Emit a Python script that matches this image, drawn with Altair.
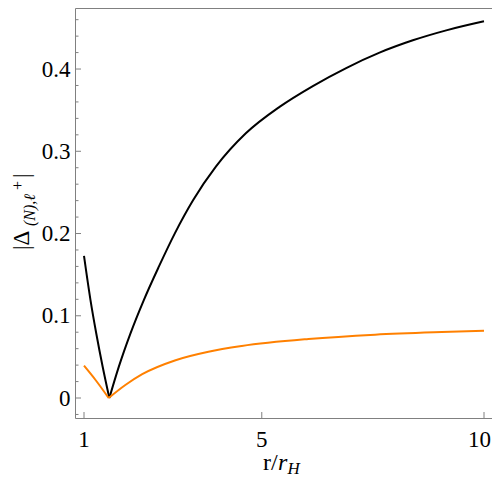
import altair as alt
import pandas as pd

# ---- data ----
r_black_left = [1.0, 1.146, 1.274, 1.42, 1.57]
black_left = [0.1727, 0.119, 0.079, 0.038, 0.0]
r_black_right = [1.57, 1.784, 2.046, 2.346, 2.684, 3.044, 3.457, 3.967, 4.641, 5.40,
                 6.149, 6.899, 7.649, 8.399, 9.15, 10.0]
black_right = [0.0, 0.0381, 0.0786, 0.1191, 0.1597, 0.2002, 0.2407, 0.2813, 0.3218, 0.354,
               0.3793, 0.4012, 0.4199, 0.4349, 0.4470, 0.4580]

r_orange_left = [1.0, 1.26, 1.555]
orange_left = [0.0393, 0.0219, 0.0]
r_orange_right = [1.555, 1.93, 2.31, 3.06, 3.80, 4.55, 6.05, 7.55, 9.05, 10.0]
orange_right = [0.0, 0.0158, 0.029, 0.046, 0.0563, 0.0632, 0.0717, 0.077, 0.0802, 0.0818]

x_ticks = [1, 5, 10]
x_labels = ["1", "5", "10"]
y_ticks = [0, 0.1, 0.2, 0.3, 0.4]
y_minor = [-0.02, 0.02, 0.04, 0.06, 0.08, 0.12, 0.14, 0.16, 0.18, 0.22, 0.24, 0.26, 0.28,
           0.32, 0.34, 0.36, 0.38, 0.42, 0.44, 0.46]

x_domain = [0.7975, 10.18]
y_domain = [-0.0243, 0.4742]

rows = []
for name, br, rs, vs in [("black", "bl", r_black_left, black_left),
                         ("black", "br", r_black_right, black_right),
                         ("orange", "ol", r_orange_left, orange_left),
                         ("orange", "or", r_orange_right, orange_right)]:
    for i, (r, v) in enumerate(zip(rs, vs)):
        rows.append({"r": r, "v": v, "series": name, "branch": br, "order": i})
df = pd.DataFrame(rows)

W, H = 417, 410
FONT = "Liberation Serif"
GRAY = "#808080"

xs = alt.Scale(domain=x_domain, nice=False, zero=False)
ys = alt.Scale(domain=y_domain, nice=False, zero=False)

lines = alt.Chart(df).mark_line(strokeWidth=2, interpolate="monotone").encode(
    x=alt.X("r:Q", scale=xs, axis=None),
    y=alt.Y("v:Q", scale=ys,
            axis=alt.Axis(values=y_ticks, title=None, ticks=False, domain=False, grid=False,
                          labelFont=FONT, labelFontSize=23, labelColor="black",
                          labelPadding=5, labelFlush=False,
                          labelExpr="datum.value == 0 ? '0' : format(datum.value, '.1f')")),
    color=alt.Color("series:N", scale=alt.Scale(domain=["black", "orange"],
                                                range=["#000000", "#ff8000"]), legend=None),
    detail="branch:N",
    order="order:Q",
)

xt = alt.Chart(pd.DataFrame({"t": x_ticks})).mark_rule(color=GRAY, strokeWidth=1).encode(
    x=alt.X("t:Q", scale=xs), y=alt.value(H), y2=alt.value(H - 6))
yt = alt.Chart(pd.DataFrame({"t": y_ticks})).mark_rule(color=GRAY, strokeWidth=1).encode(
    y=alt.Y("t:Q", scale=ys), x=alt.value(0), x2=alt.value(6))
ym = alt.Chart(pd.DataFrame({"t": y_minor})).mark_rule(color=GRAY, strokeWidth=1).encode(
    y=alt.Y("t:Q", scale=ys), x=alt.value(0), x2=alt.value(3.5))

# x tick labels (the last one kept inside the page edge)
xl_df = pd.DataFrame({"t": x_ticks, "s": x_labels})
xl_mid = alt.Chart(xl_df).transform_filter("datum.t < 10").mark_text(
    font=FONT, fontSize=23, color="black", align="center", baseline="top").encode(
    x=alt.X("t:Q", scale=xs), y=alt.value(H + 11), text="s:N")
xl_end = alt.Chart(xl_df).transform_filter("datum.t == 10").mark_text(
    font=FONT, fontSize=23, color="black", align="right", baseline="top", dx=7).encode(
    x=alt.X("t:Q", scale=xs), y=alt.value(H + 11), text="s:N")


def txt(s, x, y, size, angle=0, italic=False):
    kw = dict(text=s, font=FONT, fontSize=size, color="black", align="left",
              baseline="alphabetic")
    if angle:
        kw["angle"] = angle
    if italic:
        kw["fontStyle"] = "italic"
    return alt.Chart(pd.DataFrame({"a": [0]})).mark_text(**kw).encode(
        x=alt.value(x), y=alt.value(y))


# x title: r/r_H
xt1 = txt("r/", 188, 462, 24)
xt2 = txt("r", 203, 462, 24, italic=True)
xt3 = txt("H", 212.5, 466, 17, italic=True)
# y title: |Δ_(N),ℓ^+|
yt1 = txt("|Δ", -46, 242, 23, angle=270)
yt2 = txt("(N),ℓ", -40, 218, 16, angle=270, italic=True)
yt3 = txt("+", -52, 182, 16, angle=270)
yt4 = txt("|", -46, 170, 23, angle=270)

chart = alt.layer(lines, xt, yt, ym, xl_mid, xl_end, xt1, xt2, xt3,
                  yt1, yt2, yt3, yt4).properties(
    width=W, height=H,
    autosize=alt.AutoSizeParams(type="none"),
    padding={"left": 67, "top": 0, "right": 0, "bottom": 60},
).configure_view(stroke=GRAY, strokeWidth=1)

chart.save("out.html", embed_options={"renderer": "svg", "actions": False})
